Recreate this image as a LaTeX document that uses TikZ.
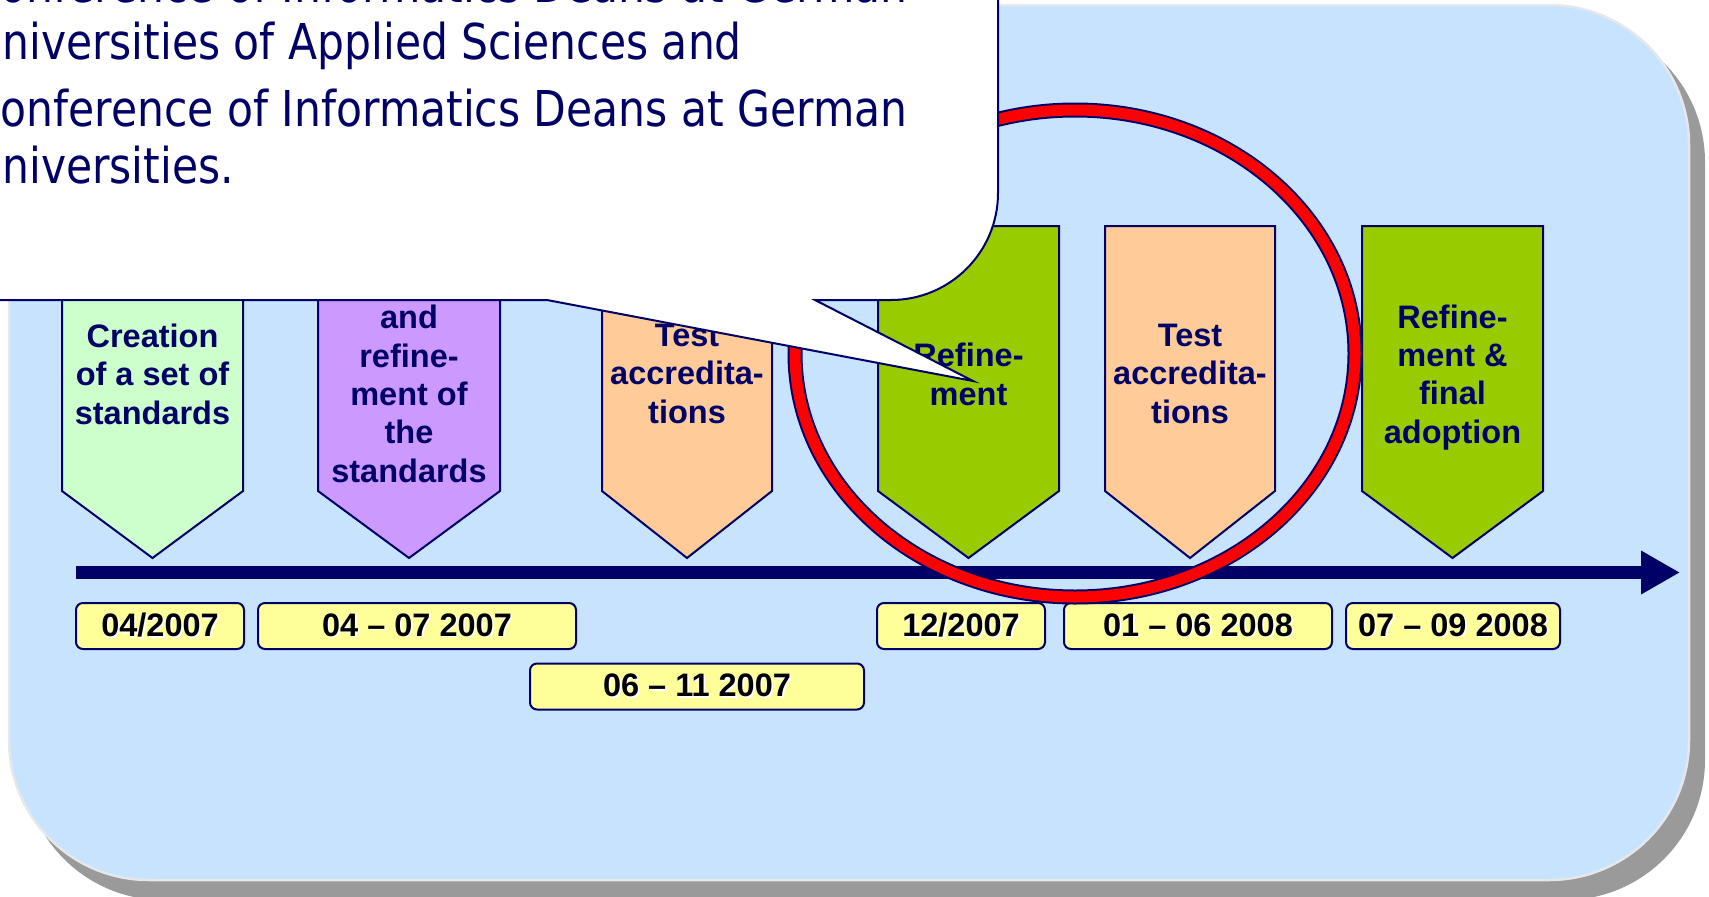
\documentclass[tikz,border=0pt]{standalone}
\usepackage{fontspec}
\setmainfont{Liberation Sans}
\newfontfamily\calloutfont[FakeStretch=0.86]{DejaVu Sans}
\usetikzlibrary{arrows.meta}
\definecolor{navy}{HTML}{000066}
\definecolor{bgblue}{HTML}{C8E3FD}
\definecolor{bgedge}{HTML}{E4E8EC}
\definecolor{shadowgray}{HTML}{9A9A9A}
\definecolor{lightgreen}{HTML}{CCFFCC}
\definecolor{lilac}{HTML}{CC99FF}
\definecolor{peach}{HTML}{FFCC99}
\definecolor{leaf}{HTML}{99CC00}
\definecolor{paleyellow}{HTML}{FFFF99}
\definecolor{ringred}{HTML}{FF0000}
\newcommand\shtext[1]{\makebox[0pt][l]{\hspace{1.6pt}\raisebox{-1.6pt}{\color{white}#1}}#1}
\tikzset{
  chevron/.style={draw=navy, line width=2pt, line join=miter},
  phasetext/.style={anchor=base, align=center, inner sep=0pt, text=navy,
    font=\fontsize{32.5}{38.3}\selectfont\bfseries},
  datebox/.style={draw=navy, line width=2pt, fill=paleyellow, rounded corners=7pt,
    inner sep=0pt, minimum height=46pt, text=black,
    font=\fontsize{32.5}{38}\selectfont\bfseries},
  timeline/.style={navy, line width=13pt, -{Triangle[length=39pt,width=41pt]}},
  callout/.style={fill=white, draw=navy, line width=2pt, line join=miter},
  calltext/.style={anchor=base west, align=left, inner sep=0pt, text=navy,
    font=\calloutfont\fontsize{49.4}{57}\selectfont},
}
\begin{document}
\begin{tikzpicture}[x=1pt,y=-1pt]
\useasboundingbox (0,0) rectangle (1709,897);
\clip (0,0) rectangle (1709,897);
% background panel with shadow
\fill[shadowgray, rounded corners=140pt] (23,22) rectangle (1705,900);
\filldraw[fill=bgblue, draw=bgedge, line width=2.5pt, rounded corners=140pt] (9,5) rectangle (1689,880);

% phase chevrons
\filldraw[chevron, fill=lightgreen] (62,226) -- (243,226) -- (243,491) -- (152.5,558) -- (62,491) -- cycle;
\filldraw[chevron, fill=lilac] (318,226) -- (500,226) -- (500,491) -- (409,558) -- (318,491) -- cycle;
\filldraw[chevron, fill=peach] (602,226) -- (772,226) -- (772,491) -- (687,558) -- (602,491) -- cycle;
\filldraw[chevron, fill=leaf] (878,226) -- (1059,226) -- (1059,491) -- (968.5,558) -- (878,491) -- cycle;
\filldraw[chevron, fill=peach] (1105,226) -- (1275,226) -- (1275,491) -- (1190,558) -- (1105,491) -- cycle;
\filldraw[chevron, fill=leaf] (1362,226) -- (1543,226) -- (1543,491) -- (1452.5,558) -- (1362,491) -- cycle;

% anchor=base refers to the last line's baseline
\node[phasetext] (p1) at (152.5,424) {Creation\\of a set of\\standards};
\node[phasetext] (p2) at (409,482) {and\\refine-\\ment of\\the\\standards};
\node[phasetext] (p3) at (687,423) {Test\\accredita-\\tions};
\node[phasetext] (p4) at (968.5,405) {Refine-\\ment};
\node[phasetext] (p5) at (1190,423) {Test\\accredita-\\tions};
\node[phasetext] (p6) at (1452.5,443) {Refine-\\ment \&\\final\\adoption};

% timeline
\coordinate (tlA) at (76,572.5);
\coordinate (tlB) at (1680,572.5);
\draw[timeline] (tlA) -- (tlB);

% dates
\node[datebox, minimum width=168pt] (d1) at (160,626) {\shtext{04/2007}};
\node[datebox, minimum width=318pt] (d2) at (417,626) {\shtext{04 -- 07 2007}};
\node[datebox, minimum width=334pt] (d3) at (697,686.5) {\shtext{06 -- 11 2007}};
\node[datebox, minimum width=168pt] (d4) at (961,626) {\shtext{12/2007}};
\node[datebox, minimum width=268pt] (d5) at (1198,626) {\shtext{01 -- 06 2008}};
\node[datebox, minimum width=214pt] (d6) at (1453,626) {\shtext{07 -- 09 2008}};

% red ring
\draw[navy, line width=15pt] (1075,353.5) ellipse [x radius=280, y radius=243.5];
\draw[ringred, line width=11pt] (1075,353.5) ellipse [x radius=280, y radius=243.5];

% callout
\draw[callout] (-112,-300) -- (998,-300) -- (998,193)
  arc[start angle=0, end angle=90, radius=107] -- (815,300) -- (973,381) -- (547,300)
  -- (-5,300) arc[start angle=90, end angle=180, radius=107] -- cycle;
\node[calltext] (ctext) at (-29,183) {Conference of Informatics Deans at German\\
Universities of Applied Sciences and\\[10pt]
Conference of Informatics Deans at German\\
Universities.};
\end{tikzpicture}
\end{document}
